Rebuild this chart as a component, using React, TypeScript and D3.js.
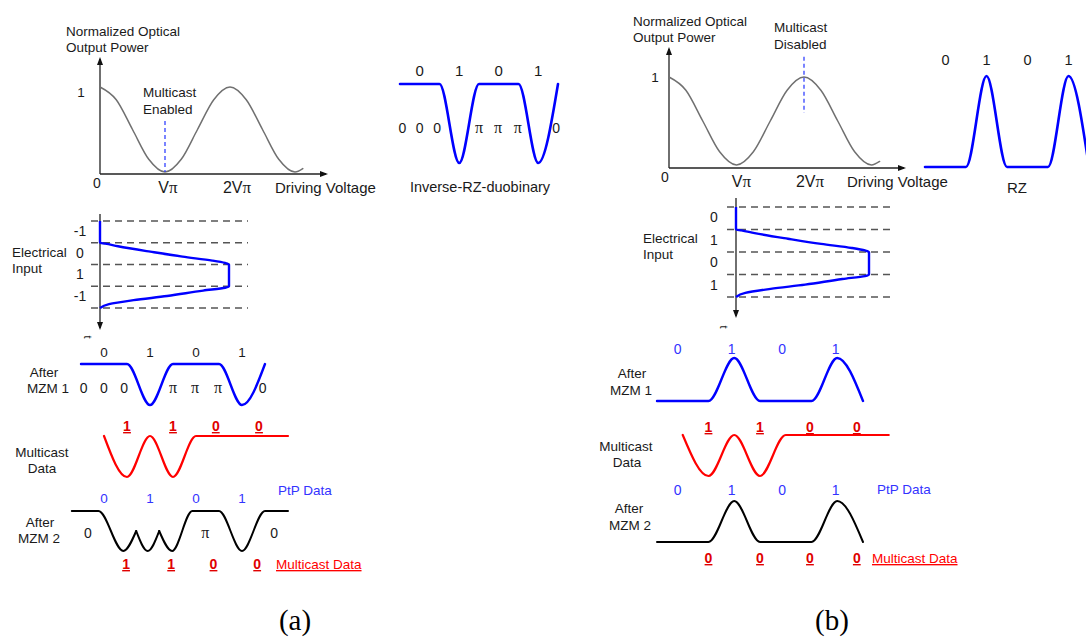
import React, { useEffect, useRef } from 'react';
import * as d3 from 'd3';

const W = 1086, H = 637;
const SANS = '"Liberation Sans", Arial, sans-serif';
const SERIF = '"Liberation Serif", "Times New Roman", serif';

// MZM transfer curve (drive voltage in units of Vπ, normalized power)
const tfVolt = [0, 0.25, 0.5, 0.75, 1, 1.25, 1.5, 1.75, 2, 2.25, 2.5, 2.75, 3, 3.12];
const tfPower = [1, 0.85, 0.5, 0.15, 0, 0.15, 0.5, 0.85, 1, 0.85, 0.5, 0.15, 0, 0.04];
const tfTicks = [1, 2];
const tfTickLabels = ['V', '2V'];

// bit patterns
const ptpBits = [0, 1, 0, 1];
const mcBits = [1, 1, 0, 0];
const mcBitsB = [0, 0, 0, 0];
const mcEnd = 4.5;

// phase labels under the inverse RZ duobinary waveform
const phaseLabels = ['0', '0', '0', 'π', 'π', 'π', '0'];
const phasePos = [0.06, 0.5, 0.94, 2, 2.48, 2.98, 3.95];

// electrical drive signal: time (bit slots) vs voltage (normalised to the peak)
const elecT = [0, 1, 1.04, 1.16, 1.41, 1.64, 1.82, 1.93, 2, 3, 3.07, 3.2, 3.45, 3.64, 3.82, 4];
const elecV = [0, 0, 0.04, 0.14, 0.39, 0.64, 0.87, 0.97, 1, 1, 0.97, 0.8, 0.52, 0.26, 0.07, 0];
const elecLabelsA = ['-1', '0', '1', '-1'];
const elecLabelsB = ['0', '1', '0', '1'];

// output after MZM 2 in (a)
const mzm2T = [-0.2, 0.38, 0.92, 1.2, 1.45, 1.7, 1.98, 2.42, 3.0, 3.5, 4.0, 4.5];
const mzm2L = [1, 1, 0, 0.5, 0, 0.5, 0, 1, 1, 0, 1, 1];
const mzm2Cusps = [3, 5];
const mzm2Phase = ['0', 'π', '0'];
const mzm2PhasePos = [0.15, 2.7, 4.2];

// label positions (bit slots) where they sit off the slot centres
const mcLabelPosA = [1, 2, 2.93, 3.87];
const mcUnderPosA = [0.98, 1.96, 2.88, 3.83];
const ptpLabelPosB = [0.4, 1.45, 2.43, 3.47];
const mcLabelPosB = [1, 2, 2.97, 3.88];

type Pt = [number, number];
type Sel = d3.Selection<SVGGElement, unknown, null, undefined>;

function invRz(bits: number[]): Pt[] {
    const p: Pt[] = [];
    bits.forEach((b, i) => { p.push([i, 1]); p.push([i + 0.5, b ? 0 : 1]); });
    p.push([bits.length, 1]);
    return p;
}

function rz(bits: number[]): Pt[] {
    const p: Pt[] = [];
    bits.forEach((b, i) => { p.push([i, 0]); p.push([i + 0.5, b ? 1 : 0]); });
    p.push([bits.length, 0]);
    return p;
}

// multicast data: dips centred on the slot boundaries
function mcWave(bits: number[], end: number): Pt[] {
    const p: Pt[] = [];
    bits.forEach((b, i) => { p.push([i + 0.5, 1]); p.push([i + 1, b ? 0 : 1]); });
    p.push([end, 1]);
    return p;
}

function wave(g: Sel, pts: Pt[], x: any, y: any, color: string, w: number) {
    const line = d3.line<Pt>().x(d => x(d[0])).y(d => y(d[1])).curve(d3.curveMonotoneX);
    g.append('path')
        .attr('d', line(pts))
        .attr('fill', 'none')
        .attr('stroke', color)
        .attr('stroke-width', w)
        .attr('stroke-linecap', 'round');
}

function text(g: Sel, x: number, y: number, s: string, o: any = {}) {
    const t = g.append('text')
        .attr('x', x).attr('y', y)
        .attr('text-anchor', o.anchor || 'start')
        .attr('font-family', o.family || SANS)
        .attr('font-size', o.size || 13.5)
        .attr('font-weight', o.weight || 'normal')
        .attr('fill', o.color || '#1a1a1a')
        .text(s);
    if (o.underline) t.style('text-decoration', 'underline');
    return t;
}

function phase(g: Sel, x: number, y: number, s: string) {
    if (s === 'π') text(g, x, y, s, { anchor: 'middle', family: SERIF, size: 16 });
    else text(g, x, y, s, { anchor: 'middle', size: 14 });
}

function arrow(g: Sel, x: number, y: number, dir: string) {
    const pts = dir === 'up' ? [[x, y], [x - 3, y + 8], [x + 3, y + 8]]
        : dir === 'down' ? [[x, y], [x - 3, y - 8], [x + 3, y - 8]]
            : [[x, y], [x - 8, y - 3], [x - 8, y + 3]];
    g.append('polygon').attr('points', pts.map(p => p.join(',')).join(' ')).attr('fill', '#111');
}

function transfer(g: Sel, c: any) {
    const { x, y } = c;
    const x0 = x(0);
    g.append('line').attr('x1', x0).attr('y1', c.axisY).attr('x2', x0).attr('y2', c.topY + 2)
        .attr('stroke', '#222').attr('stroke-width', 1.3);
    g.append('line').attr('x1', x0).attr('y1', c.axisY).attr('x2', c.rightX - 2).attr('y2', c.axisY)
        .attr('stroke', '#222').attr('stroke-width', 1.3);
    arrow(g, x0, c.topY, 'up');
    arrow(g, c.rightX, c.axisY, 'right');

    const pts: Pt[] = tfVolt.map((v, i) => [v, tfPower[i]]);
    wave(g, pts, x, y, '#707070', 1.5);

    g.append('line')
        .attr('x1', x(c.markV)).attr('x2', x(c.markV))
        .attr('y1', y(c.markP[0])).attr('y2', y(c.markP[1]))
        .attr('stroke', '#2233ff').attr('stroke-width', 1.2).attr('stroke-dasharray', '4,3');

    text(g, c.titleX, c.titleY, 'Normalized Optical');
    text(g, c.titleX, c.titleY + 16, 'Output Power');
    text(g, c.markX, c.markY, c.markText[0]);
    text(g, c.markX, c.markY + 17, c.markText[1]);
    text(g, c.oneX, c.oneY, '1', { anchor: 'middle' });
    text(g, c.zeroX, c.zeroY, '0', { anchor: 'middle', size: 14 });
    tfTicks.forEach((v, i) => {
        const t = text(g, x(v) + c.tickDx[i], c.tickY, tfTickLabels[i], { anchor: 'middle', size: 16 });
        t.append('tspan').attr('font-family', SERIF).attr('font-size', 17).text('π');
    });
    text(g, c.dvX, c.tickY, 'Driving Voltage', { size: 15 });
}

function electrical(g: Sel, c: any) {
    const { v, t } = c;
    d3.range(5).forEach(i => {
        g.append('line')
            .attr('x1', c.dashX[0]).attr('x2', c.dashX[1])
            .attr('y1', t(i)).attr('y2', t(i))
            .attr('stroke', '#555').attr('stroke-width', 1.4).attr('stroke-dasharray', '7,5');
    });
    g.append('line').attr('x1', v(0)).attr('x2', v(0)).attr('y1', c.axisTop).attr('y2', c.axisBottom - 2)
        .attr('stroke', '#222').attr('stroke-width', 1.3);
    arrow(g, v(0), c.axisBottom, 'down');

    const line = d3.line<Pt>().x(d => v(d[1])).y(d => t(d[0])).curve(d3.curveMonotoneY);
    g.append('path').attr('d', line(elecT.map((tt, i) => [tt, elecV[i]] as Pt)))
        .attr('fill', 'none').attr('stroke', '#0000ff').attr('stroke-width', 2.4);

    c.labels.forEach((s: string, i: number) => text(g, c.labelX, t(i + 0.5) + 4, s, { anchor: 'middle', size: 14 }));
    text(g, c.titleX, c.titleY, 'Electrical');
    text(g, c.titleX, c.titleY + 16, 'Input');
    text(g, c.tX, c.tY, 't', { size: 11, anchor: 'middle' }).attr('transform', `rotate(90,${c.tX},${c.tY})`);
}

function draw(el: SVGSVGElement) {
    const svg = d3.select(el);
    svg.selectAll('*').remove();
    const g = svg.append('g') as unknown as Sel;

    // ---------- (a) ----------
    transfer(g, {
        x: d3.scaleLinear().domain([0, 1]).range([100, 165]),
        y: d3.scaleLinear().domain([0, 1]).range([172, 87]),
        axisY: 174, topY: 57, rightX: 328,
        markV: 1, markP: [0.6, 0], markX: 143, markY: 97, markText: ['Multicast', 'Enabled'],
        titleX: 66, titleY: 36, oneX: 81, oneY: 97, zeroX: 97, zeroY: 188,
        tickY: 193, tickDx: [3, 7], dvX: 275,
    });

    // inverse RZ duobinary
    const irx = d3.scaleLinear().domain([0, 4]).range([400, 558]);
    const iry = d3.scaleLinear().domain([0, 1]).range([163, 84]);
    wave(g, invRz(ptpBits), irx, iry, '#0000ff', 2.6);
    ptpBits.forEach((b, i) => text(g, irx(i + 0.5), 76, String(b), { anchor: 'middle', size: 15 }));
    phaseLabels.forEach((s, i) => phase(g, irx(phasePos[i]), 133, s));
    text(g, 480, 192, 'Inverse-RZ-duobinary', { anchor: 'middle', size: 14.5 });

    electrical(g, {
        v: d3.scaleLinear().domain([0, 1]).range([100, 229]),
        t: d3.scaleLinear().domain([0, 4]).range([221, 308]),
        dashX: [91, 248], axisTop: 214, axisBottom: 330,
        labels: elecLabelsA, labelX: 80, titleX: 12, titleY: 257, tX: 84, tY: 337,
    });

    const ax = d3.scaleLinear().domain([0, 4]).range([81, 265]);
    // after MZM 1
    const a1 = d3.scaleLinear().domain([0, 1]).range([405, 364]);
    wave(g, invRz(ptpBits), ax, a1, '#0000ff', 2.4);
    ptpBits.forEach((b, i) => text(g, ax(i + 0.5), 357, String(b), { anchor: 'middle', size: 13.5 }));
    phaseLabels.forEach((s, i) => phase(g, ax(phasePos[i]), 393, s));
    text(g, 44, 377, 'After', { anchor: 'middle' });
    text(g, 48, 393, 'MZM 1', { anchor: 'middle' });

    // multicast data
    const a2 = d3.scaleLinear().domain([0, 1]).range([477, 436]);
    wave(g, mcWave(mcBits, mcEnd), ax, a2, '#ff0000', 2.2);
    mcBits.forEach((b, i) => text(g, ax(mcLabelPosA[i]), 431, String(b),
        { anchor: 'middle', size: 14, weight: 'bold', color: '#e00000', underline: true }));
    text(g, 42, 457, 'Multicast', { anchor: 'middle' });
    text(g, 42, 473, 'Data', { anchor: 'middle' });

    // after MZM 2
    const a3 = d3.scaleLinear().domain([0, 1]).range([551, 511]);
    const m2: Pt[] = mzm2T.map((tt, i) => [tt, mzm2L[i]]);
    const cuts = [0, ...mzm2Cusps, m2.length - 1];
    for (let k = 0; k < cuts.length - 1; k++) {
        wave(g, m2.slice(cuts[k], cuts[k + 1] + 1), ax, a3, '#000', 2);
    }
    ptpBits.forEach((b, i) => text(g, ax(i + 0.5), 503, String(b), { anchor: 'middle', size: 13.5, color: '#3333ff' }));
    mzm2Phase.forEach((s, i) => phase(g, ax(mzm2PhasePos[i]), 538, s));
    mcBits.forEach((b, i) => text(g, ax(mcUnderPosA[i]), 569, String(b),
        { anchor: 'middle', size: 14, weight: 'bold', color: '#e00000', underline: true }));
    text(g, 278, 495, 'PtP Data', { color: '#3333ff' });
    text(g, 276, 569, 'Multicast Data', { color: '#ff0000', underline: true });
    text(g, 40, 527, 'After', { anchor: 'middle' });
    text(g, 39, 543, 'MZM 2', { anchor: 'middle' });

    text(g, 295, 630, '(a)', { anchor: 'middle', family: SERIF, size: 29, color: '#000' });

    // ---------- (b) ----------
    transfer(g, {
        x: d3.scaleLinear().domain([0, 1]).range([669, 736.5]),
        y: d3.scaleLinear().domain([0, 1]).range([165, 77]),
        axisY: 168, topY: 47, rightX: 906,
        markV: 2, markP: [1.23, 0.59], markX: 774, markY: 32, markText: ['Multicast', 'Disabled'],
        titleX: 633, titleY: 26, oneX: 655, oneY: 82, zeroX: 665, zeroY: 182,
        tickY: 187, tickDx: [5, 6], dvX: 847,
    });

    // RZ
    const rx = d3.scaleLinear().domain([0, 4]).range([925, 1089]);
    const ry = d3.scaleLinear().domain([0, 1]).range([167, 76]);
    wave(g, rz(ptpBits), rx, ry, '#0000ff', 2.6);
    ptpBits.forEach((b, i) => text(g, rx(i + 0.5), 65, String(b), { anchor: 'middle', size: 14.5 }));
    text(g, 1017, 193, 'RZ', { anchor: 'middle', size: 15 });

    electrical(g, {
        v: d3.scaleLinear().domain([0, 1]).range([736, 869]),
        t: d3.scaleLinear().domain([0, 4]).range([207, 297]),
        dashX: [727, 890], axisTop: 198, axisBottom: 318,
        labels: elecLabelsB, labelX: 714, titleX: 643, titleY: 243, tX: 720, tY: 327,
    });

    const bx = d3.scaleLinear().domain([0, 4]).range([657, 863]);
    const b1 = d3.scaleLinear().domain([0, 1]).range([401, 358]);
    wave(g, rz(ptpBits), bx, b1, '#0000ff', 2.4);
    ptpBits.forEach((b, i) => text(g, bx(ptpLabelPosB[i]), 354, String(b), { anchor: 'middle', size: 14, color: '#3333ff' }));
    text(g, 632, 378, 'After', { anchor: 'middle' });
    text(g, 631, 395, 'MZM 1', { anchor: 'middle' });

    const b2 = d3.scaleLinear().domain([0, 1]).range([476, 435]);
    wave(g, mcWave(mcBits, mcEnd), bx, b2, '#ff0000', 2.2);
    mcBits.forEach((b, i) => text(g, bx(mcLabelPosB[i]), 432, String(b),
        { anchor: 'middle', size: 14, weight: 'bold', color: '#e00000', underline: true }));
    text(g, 626, 451, 'Multicast', { anchor: 'middle' });
    text(g, 627, 467, 'Data', { anchor: 'middle' });

    const b3 = d3.scaleLinear().domain([0, 1]).range([542, 501]);
    wave(g, rz(ptpBits), bx, b3, '#000', 2);
    ptpBits.forEach((b, i) => text(g, bx(ptpLabelPosB[i]), 495, String(b), { anchor: 'middle', size: 14, color: '#3333ff' }));
    mcBitsB.forEach((b, i) => text(g, bx(mcLabelPosB[i]), 563, String(b),
        { anchor: 'middle', size: 14, weight: 'bold', color: '#e00000', underline: true }));
    text(g, 877, 494, 'PtP Data', { color: '#3333ff' });
    text(g, 872, 563, 'Multicast Data', { color: '#ff0000', underline: true });
    text(g, 629, 513, 'After', { anchor: 'middle' });
    text(g, 630, 530, 'MZM 2', { anchor: 'middle' });

    text(g, 832, 630, '(b)', { anchor: 'middle', family: SERIF, size: 29, color: '#000' });
}

const App = () => {
    const ref = useRef<SVGSVGElement>(null);
    useEffect(() => {
        if (ref.current) draw(ref.current);
    }, []);
    return (
        <svg ref={ref} width={W} height={H}
            style={{ position: 'absolute', left: 0, top: 0, background: '#fff' }} />
    );
};

export default App;
